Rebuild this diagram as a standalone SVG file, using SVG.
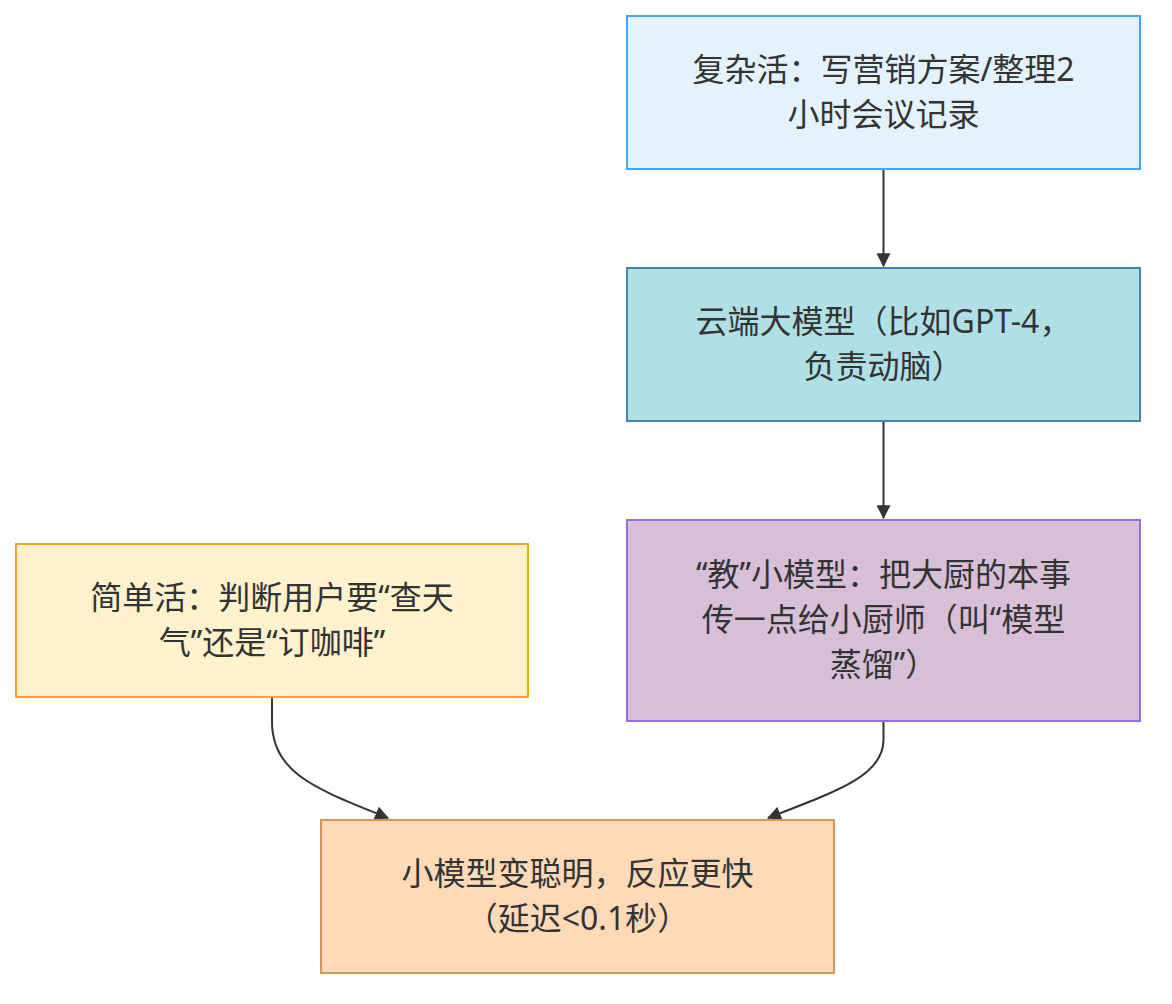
<svg xmlns="http://www.w3.org/2000/svg" width="1172" height="1004" viewBox="0 0 1172 1004">
<defs>
<style>
.lbl{font-family:"Noto Sans","Noto Sans CJK SC",sans-serif;font-size:32px;fill:#333;text-anchor:middle}
.edge{fill:none;stroke:#333;stroke-width:2}
</style>
<marker id="ah" viewBox="0 0 12 12" refX="11" refY="6" markerWidth="14" markerHeight="14" markerUnits="userSpaceOnUse" orient="auto">
<path d="M0,0 L12,6 L0,12 z" fill="#333"/>
</marker>
</defs>
<rect width="1172" height="1004" fill="#ffffff"/>
<g id="edges">
<path class="edge" d="M883.5,169 L883.5,266" marker-end="url(#ah)"/>
<path class="edge" d="M883.5,421 L883.5,518" marker-end="url(#ah)"/>
<path class="edge" d="M272,697 L272,722 C272,775 320,790 388,818" marker-end="url(#ah)"/>
<path class="edge" d="M883.5,721 L883.5,740 C883.5,775 840,790 768,818" marker-end="url(#ah)"/>
</g>
<g id="n1">
<rect x="627" y="16" width="513" height="153" fill="#e3f2fd" stroke="#42a5f5" stroke-width="2"/>
<text class="lbl" x="883.5" y="81">复杂活：写营销方案/整理2</text>
<text class="lbl" x="883.5" y="126">小时会议记录</text>
</g>
<g id="n2">
<rect x="627" y="268" width="513" height="153" fill="#b0e0e6" stroke="#4682b4" stroke-width="2"/>
<text class="lbl" x="883.5" y="333">云端大模型（比如GPT-4，</text>
<text class="lbl" x="883.5" y="378">负责动脑）</text>
</g>
<g id="n3">
<rect x="627" y="520" width="513" height="201" fill="#d8bfd8" stroke="#9370db" stroke-width="2"/>
<text class="lbl" x="883.5" y="586">“教”小模型：把大厨的本事</text>
<text class="lbl" x="883.5" y="631">传一点给小厨师（叫“模型</text>
<text class="lbl" x="883.5" y="676">蒸馏”）</text>
</g>
<g id="n4">
<rect x="16" y="544" width="512" height="153" fill="#fff2cc" stroke="#f5a623" stroke-width="2"/>
<text class="lbl" x="272" y="609">简单活：判断用户要“查天</text>
<text class="lbl" x="272" y="654">气”还是“订咖啡”</text>
</g>
<g id="n5">
<rect x="321" y="820" width="513" height="153" fill="#ffdab9" stroke="#d4945a" stroke-width="2"/>
<text class="lbl" x="577.5" y="885">小模型变聪明，反应更快</text>
<text class="lbl" x="577.5" y="930">（延迟&lt;0.1秒）</text>
</g>
</svg>
